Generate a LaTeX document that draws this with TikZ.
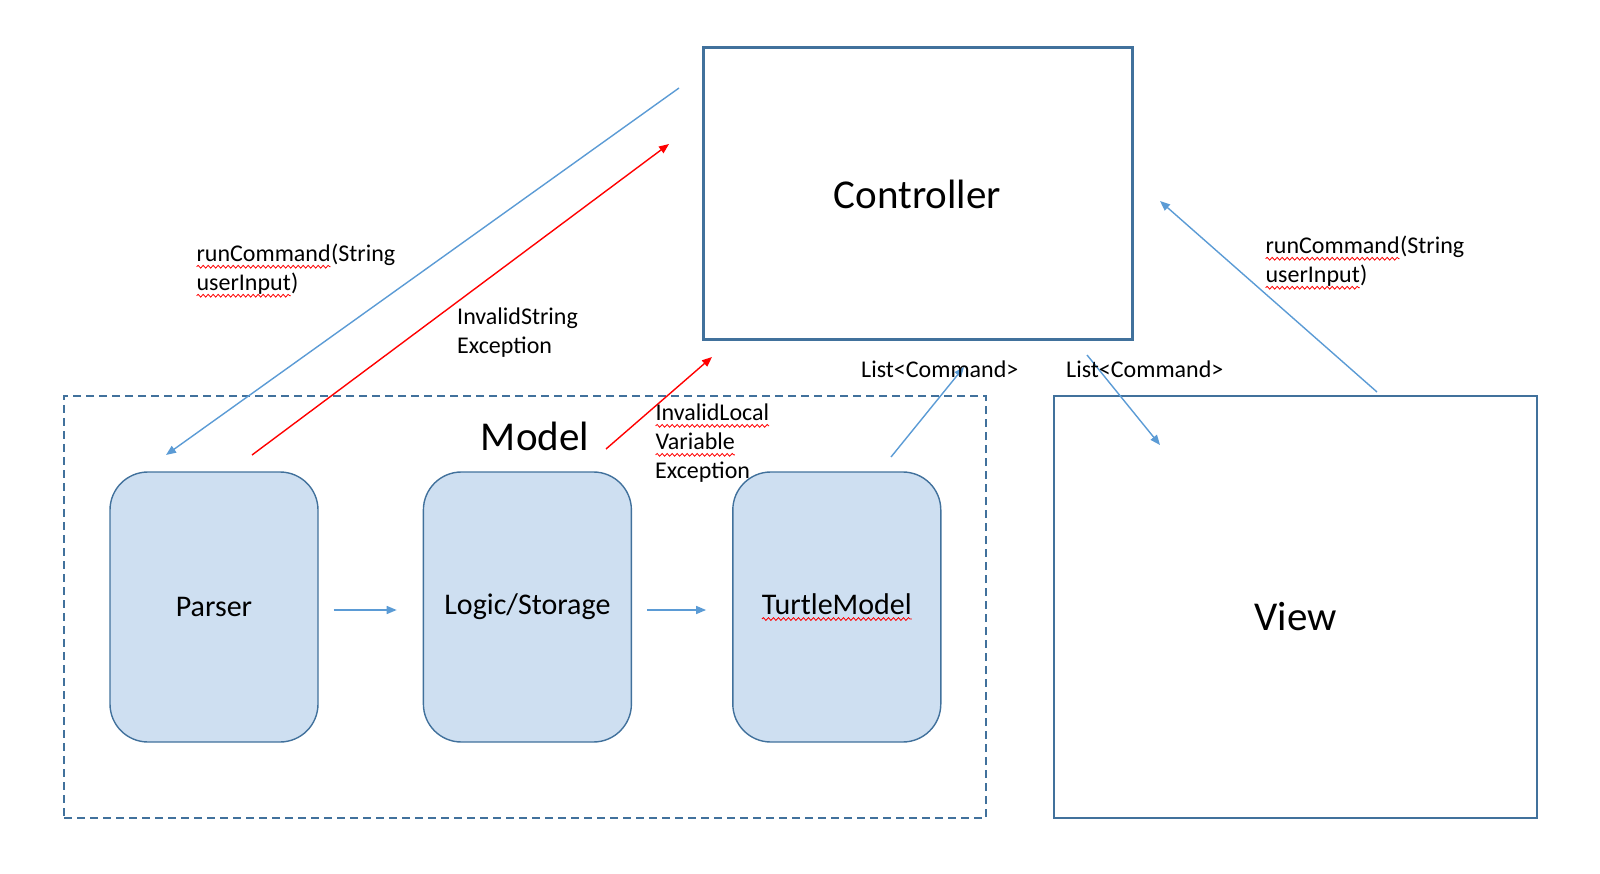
\documentclass[tikz,border=0pt]{standalone}
\usepackage{fontspec}
\setmainfont{Carlito}
\usetikzlibrary{arrows.meta,positioning,decorations.pathmorphing}

\definecolor{boxline}{HTML}{41719C}
\definecolor{boxfill}{HTML}{CEDFF1}
\definecolor{arrowblue}{HTML}{5B9BD5}

% red spell-check wave under a word
\newcommand{\spellerr}[1]{\tikz[baseline=(w.base)]{%
    \node[anchor=base, draw=none, fill=none, rounded corners=0pt, inner sep=0pt, outer sep=0pt,
        minimum width=0pt, minimum height=0pt] (w) at (0,0) {#1};
    \draw[red, line width=0.8pt, rounded corners=0pt, dash pattern=on 1pt off 0pt, decorate,
        decoration={snake, amplitude=1.4pt, segment length=5pt}]
        ([yshift=-5pt]w.base west) -- ([yshift=-5pt]w.base east);}}

\begin{document}
\begin{tikzpicture}[x=1pt, y=-1pt,
    flow/.style={-{Triangle[length=10pt,width=8pt]}, arrowblue, line width=1.4pt},
    errflow/.style={-{Triangle[length=10pt,width=8pt]}, red, line width=1.4pt},
    module/.style={draw=boxline, fill=boxfill, line width=1.4pt, rounded corners=38pt,
        minimum width=208pt, minimum height=270pt, font=\fontsize{30}{36}\selectfont},
    bigbox/.style={draw=boxline, font=\fontsize{41}{49}\selectfont},
    lbl/.style={align=left, inner sep=0pt, anchor=north west, font=\fontsize{24}{29}\selectfont}]
    \useasboundingbox (0,0) rectangle (1600,874);
    % Controller and View
    \node[bigbox, line width=3pt, minimum width=429pt, minimum height=292pt] (controller) at (917.5,194) {Controller};
    \node[bigbox, line width=1.8pt, minimum width=483pt, minimum height=422pt] (view) at (1295.5,607) {};
    \node[font=\fontsize{41}{49}\selectfont] (viewtitle) at ([yshift=-10pt]view.center) {View};
    % Model group
    \node[draw=boxline, line width=1.4pt, dash pattern=on 8pt off 5pt,
        minimum width=922pt, minimum height=422pt] (model) at (525,607) {};
    \node[font=\fontsize{41}{49}\selectfont] (modeltitle) at (535,436) {Model};
    \node[module] (parser) at (214,607) {Parser};
    \node[module, right=104pt of parser] (logic) {Logic/Storage};
    \node[module, right=100pt of logic] (turtle) {\spellerr{TurtleModel}};
    % Flow inside the model
    \foreach \a/\b in {parser/logic, logic/turtle}
        \draw[flow, shorten <=15pt, shorten >=26pt] ([yshift=-3pt]\a.east) -- ([yshift=-3pt]\b.west);
    % Free ends of the calls
    \coordinate (ctrl-call) at (679,88);
    \coordinate (parser-in) at (166,455);
    \coordinate (parser-err) at (252,455);
    \coordinate (ctrl-err) at (669,144);
    \coordinate (logic-err) at (606,449);
    \coordinate (ctrl-err2) at (712,357);
    \coordinate (turtle-out) at (891,457);
    \coordinate (ctrl-list) at (964,367);
    \coordinate (ctrl-out) at (1087,355);
    \coordinate (view-in) at (1160,445);
    \coordinate (view-call) at (1377,392);
    \coordinate (ctrl-in) at (1160,201);
    % Calls and exceptions
    \draw[flow] (ctrl-call) -- (parser-in);
    \draw[errflow] (parser-err) -- (ctrl-err);
    \draw[errflow] (logic-err) -- (ctrl-err2);
    \draw[flow] (turtle-out) -- (ctrl-list);
    \draw[flow] (ctrl-out) -- (view-in);
    \draw[flow] (view-call) -- (ctrl-in);
    % Labels
    \node[lbl] (callleft) at (196,244) {\spellerr{runCommand}(String\\\spellerr{userInput})};
    \node[lbl] (callright) at (1265,236) {\spellerr{runCommand}(String\\\spellerr{userInput})};
    \node[lbl] (strerr) at (457,308) {InvalidString\\Exception};
    \node[lbl] (varerr) at (655,404) {\spellerr{InvalidLocal}\\\spellerr{Variable}\\Exception};
    \node[lbl] (listup) at (861,361) {List<Command>};
    \node[lbl] (listdown) at (1066,361) {List<Command>};
\end{tikzpicture}
\end{document}
